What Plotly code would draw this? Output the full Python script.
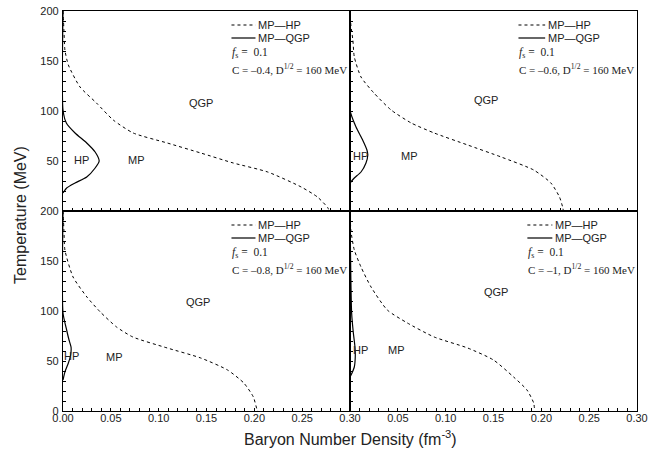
import plotly.graph_objects as go
from plotly.subplots import make_subplots

# ---------------- data ----------------
# Panel (a) C = -0.4
a_hp_x = [0.000, 0.001, 0.002, 0.0056, 0.0178, 0.035, 0.0525, 0.0734, 0.109, 0.144, 0.178, 0.214, 0.249, 0.266, 0.277, 0.278]
a_hp_T = [200, 180, 161, 146, 124, 108, 91, 78, 68, 58, 48, 39, 24, 14, 3, 0]
a_qgp_x = [0.0, 0.0, 0.0035, 0.0126, 0.0248, 0.0336, 0.0378, 0.0336, 0.0248, 0.0126, 0.0038, 0.0]
a_qgp_T = [200, 101, 88, 78, 68, 59, 50, 43, 34, 28, 23, 18]

# Panel (b) C = -0.6
b_hp_x = [0.000, 0.001, 0.003, 0.0045, 0.0115, 0.025, 0.043, 0.064, 0.088, 0.123, 0.158, 0.192, 0.210, 0.219, 0.2225, 0.223]
b_hp_T = [200, 185, 171, 154, 134, 118, 101, 88, 78, 66, 54, 41, 28, 14, 3, 0]
b_qgp_x = [0.0, 0.0, 0.0063, 0.0132, 0.0177, 0.0186, 0.0167, 0.0115, 0.0045, 0.0]
b_qgp_T = [200, 101, 84, 71, 61, 56, 48, 39, 33, 28]

# Panel (c) C = -0.8
c_hp_x = [0.000, 0.001, 0.002, 0.0105, 0.025, 0.039, 0.056, 0.073, 0.109, 0.144, 0.172, 0.189, 0.199, 0.203, 0.204]
c_hp_T = [200, 180, 161, 134, 114, 99, 84, 74, 63, 53, 41, 28, 14, 1, 0]
c_qgp_x = [0.0, 0.0, 0.0038, 0.0063, 0.0084, 0.008, 0.0056, 0.002, 0.0]
c_qgp_T = [200, 98, 81, 71, 64, 56, 48, 39, 31]

# Panel (d) C = -1
d_hp_x = [0.000, 0.001, 0.0045, 0.0115, 0.022, 0.039, 0.060, 0.088, 0.123, 0.150, 0.171, 0.185, 0.192, 0.193]
d_hp_T = [200, 180, 161, 144, 124, 101, 88, 74, 63, 51, 34, 21, 8, 0]
d_qgp_x = [0.0, 0.0017, 0.0035, 0.0052, 0.0055, 0.0045, 0.0021, 0.0]
d_qgp_T = [200, 98, 78, 64, 54, 44, 38, 34]

panel_C = ["\u20130.4", "\u20130.6", "\u20130.8", "\u20131"]

# region labels (text, x, T) per panel
a_labels = [("QGP", 0.144, 108), ("HP", 0.0196, 51), ("MP", 0.077, 51)]
b_labels = [("QGP", 0.142, 111), ("HP", 0.0105, 55), ("MP", 0.062, 55)]
c_labels = [("QGP", 0.141, 109), ("HP", 0.0084, 55), ("MP", 0.0535, 54)]
d_labels = [("QGP", 0.153, 119), ("HP", 0.0108, 61), ("MP", 0.049, 61)]

x_major = [0.00, 0.05, 0.10, 0.15, 0.20, 0.25, 0.30]
x_major_right = [0.05, 0.10, 0.15, 0.20, 0.25, 0.30]
y_major_top = [50, 100, 150, 200]
y_major_bottom = [0, 50, 100, 150, 200]

# ---------------- figure ----------------
fig = make_subplots(rows=2, cols=2, horizontal_spacing=0, vertical_spacing=0)

panels = [
    (1, 1, a_hp_x, a_hp_T, a_qgp_x, a_qgp_T, a_labels),
    (1, 2, b_hp_x, b_hp_T, b_qgp_x, b_qgp_T, b_labels),
    (2, 1, c_hp_x, c_hp_T, c_qgp_x, c_qgp_T, c_labels),
    (2, 2, d_hp_x, d_hp_T, d_qgp_x, d_qgp_T, d_labels),
]

SANS = "Liberation Sans, Arial, sans-serif"
SERIF = "Liberation Serif, Times New Roman, serif"

for r, c, hx, hT, qx, qT, labels in panels:
    fig.add_trace(go.Scatter(x=hx, y=hT, mode="lines",
                             line=dict(color="black", width=1, dash="3px,3px", shape="spline", smoothing=0.6),
                             showlegend=False, hoverinfo="skip"), row=r, col=c)
    fig.add_trace(go.Scatter(x=qx, y=qT, mode="lines",
                             line=dict(color="black", width=1.2, shape="spline", smoothing=0.6),
                             showlegend=False, hoverinfo="skip"), row=r, col=c)
    for txt, lx, lT in labels:
        fig.add_annotation(x=lx, y=lT, text=txt, showarrow=False,
                           font=dict(family=SANS, size=11, color="#222"),
                           row=r, col=c)

# legend blocks (domain positions per panel)
legend_pos = {
    (1, 1): ("x", "y", 0.587, 0.671),
    (1, 2): ("x2", "y2", 0.587, 0.680),
    (2, 1): ("x3", "y3", 0.587, 0.671),
    (2, 2): ("x4", "y4", 0.618, 0.705),
}
for i, ((r, c), (xr, yr, x0, x1)) in enumerate(legend_pos.items()):
    xd, yd = xr + " domain", yr + " domain"
    fig.add_shape(type="line", xref=xd, yref=yd, x0=x0, x1=x1, y0=0.93, y1=0.93,
                  line=dict(color="black", width=1, dash="3px,3px"))
    fig.add_shape(type="line", xref=xd, yref=yd, x0=x0, x1=x1, y0=0.865, y1=0.865,
                  line=dict(color="black", width=1.2))
    fig.add_annotation(xref=xd, yref=yd, x=x1 + 0.003, y=0.93, text="MP\u2014HP",
                       xanchor="left", yanchor="middle", showarrow=False,
                       font=dict(family=SANS, size=11, color="#222"))
    fig.add_annotation(xref=xd, yref=yd, x=x1 + 0.003, y=0.865, text="MP\u2014QGP",
                       xanchor="left", yanchor="middle", showarrow=False,
                       font=dict(family=SANS, size=11, color="#222"))
    fig.add_annotation(xref=xd, yref=yd, x=x0 - 0.006, y=0.79, text="<i>f</i><sub>s</sub> =  0.1",
                       xanchor="left", yanchor="middle", showarrow=False,
                       font=dict(family=SERIF, size=11.5, color="#222"))
    fig.add_annotation(xref=xd, yref=yd, x=x0 - 0.006, y=0.71,
                       text="C = " + panel_C[i] + ", D<sup>1/2</sup> = 160 MeV",
                       xanchor="left", yanchor="middle", showarrow=False,
                       font=dict(family=SERIF, size=11, color="#222"))

axis_common = dict(showline=True, linecolor="black", linewidth=1.2, mirror=True,
                   ticks="inside", ticklen=3, tickcolor="black", showgrid=False,
                   zeroline=False, automargin=False, ticklabeloverflow="allow",
                   tickfont=dict(family=SANS, size=11, color="#222"))

for r in (1, 2):
    for c in (1, 2):
        xticks = x_major if c == 1 else x_major_right
        fig.update_xaxes(range=[0, 0.3], tickmode="array", tickvals=xticks,
                         ticktext=["%.2f" % v for v in xticks],
                         showticklabels=(r == 2), ticklabelstandoff=-3,
                         minor=dict(dtick=0.01, tick0=0, ticks="inside", ticklen=3, tickcolor="black"),
                         row=r, col=c, **axis_common)
        yticks = y_major_top if r == 1 else y_major_bottom
        fig.update_yaxes(range=[0, 200], tickmode="array", tickvals=yticks,
                         ticktext=[str(v) for v in yticks],
                         showticklabels=(c == 1), ticklabelstandoff=1,
                         minor=dict(dtick=10, tick0=0, ticks="inside", ticklen=3, tickcolor="black"),
                         row=r, col=c, **axis_common)

fig.add_annotation(xref="paper", yref="paper", x=0.5, y=-0.068,
                   text="Baryon Number Density (fm<sup>-3</sup>)", showarrow=False,
                   xanchor="center", yanchor="middle",
                   font=dict(family=SANS, size=16, color="#222"))
fig.add_annotation(xref="paper", yref="paper", x=-0.075, y=0.49,
                   text="Temperature (MeV)", showarrow=False, textangle=-90,
                   xanchor="center", yanchor="middle",
                   font=dict(family=SANS, size=16, color="#222"))

fig.update_layout(template="none", width=668, height=456,
                  margin=dict(l=63, r=31, t=11, b=45, autoexpand=False),
                  plot_bgcolor="white", paper_bgcolor="white", showlegend=False)

# remove the browser's default 8px body margin so the figure fills the window
fig.write_html("out.html", config={"displayModeBar": False},
               post_script="document.body.style.margin='0px';document.body.style.overflow='hidden';")
